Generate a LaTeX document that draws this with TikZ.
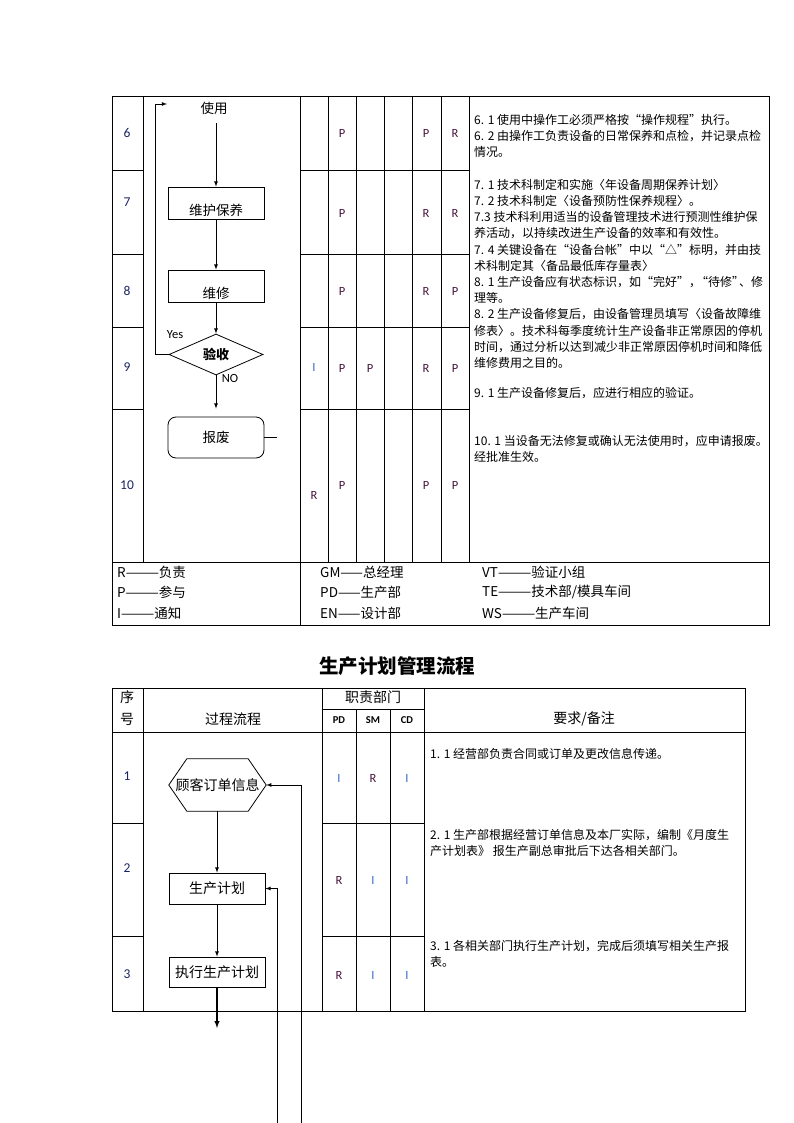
\documentclass[tikz,border=0pt]{standalone}
\usepackage{fontspec}
\setmainfont{Noto Sans CJK SC}
\newfontfamily\latinfont{Carlito}
\usetikzlibrary{arrows,shapes.geometric,positioning}

\definecolor{numblue}{RGB}{25,35,100}
\definecolor{dutyred}{RGB}{70,20,60}
\definecolor{dutyblue}{RGB}{55,105,200}

\tikzset{
  tabline/.style={line width=0.8pt},
  flowline/.style={line width=0.8pt},
  flowbox/.style={draw,line width=0.8pt,minimum width=96pt,minimum height=32pt,
    inner sep=0pt,text height=24pt,text depth=0pt,font=\fontsize{13.5}{14}\selectfont},
  planbox/.style={draw,line width=0.8pt,minimum width=96pt,minimum height=31pt,
    inner sep=0pt,font=\fontsize{14}{15}\selectfont},
  checkbox/.style={diamond,draw,line width=0.8pt,aspect=2.3,inner sep=0pt,
    minimum width=94pt,minimum height=41pt,font=\bfseries\fontsize{13}{14}\selectfont},
  endbox/.style={draw,line width=0.8pt,rounded corners=8pt,minimum width=96pt,
    minimum height=41pt,inner sep=0pt,font=\fontsize{13.5}{14}\selectfont},
  rownum/.style={text=numblue,inner sep=0pt,font=\latinfont\fontsize{13.5}{14}\selectfont},
  duty/.style={text=dutyred,inner sep=0pt,font=\latinfont\fontsize{12.5}{13}\selectfont},
  dutyi/.style={text=dutyblue,inner sep=0pt,font=\latinfont\fontsize{12.5}{13}\selectfont},
  remark/.style={anchor=north west,align=left,inner sep=0pt,
    font=\fontsize{12}{16.2}\selectfont},
  legend/.style={anchor=west,inner sep=0pt,font=\fontsize{13.5}{14}\selectfont},
  head/.style={inner sep=0pt,font=\fontsize{14}{15}\selectfont}
}

\begin{document}
\begin{tikzpicture}[>=latex,x=1pt,y=-1pt]
    \useasboundingbox (0,0) rectangle (794,1123);

    % upper table, grid
    \draw[tabline] (112,96) rectangle (769,625);
    \draw[tabline] (112,562) -- (769,562);
    \draw[tabline] (300,96) -- (300,625);
    \foreach \x in {143,328,356,384,412,441,469}
        \draw[tabline] (\x,96) -- (\x,562);
    \foreach \y in {170,254,327,409} {
        \draw[tabline] (112,\y) -- (143,\y);
        \draw[tabline] (300,\y) -- (469,\y);
    }

    % row numbers
    \foreach \n/\y in {6/133,7/202,8/291,9/367,10/485}
        \node[rownum] (no\n) at (127,\y) {\n};

    % duties
    \foreach \c/\x/\y/\t in {a/342/133/P,b/426/133/P,c/455/133/R,
                             d/342/213/P,e/426/213/R,f/455/213/R,
                             g/342/291/P,h/426/291/R,i/455/291/P,
                             j/342/368/P,k/370/368/P,l/426/368/R,m/455/368/P,
                             n/314/495/R,o/342/485/P,p/426/485/P,q/455/485/P}
        \node[duty] (duty-\c) at (\x,\y) {\t};
    \node[dutyi] (duty-r) at (314,367) {I};

    % flow, upper part
    \node[inner sep=1pt,font=\fontsize{13.5}{14}\selectfont] (use) at (214,108) {使用};
    \node[flowbox] (keep) at (216,203) {维护保养};
    \node[flowbox] (fix) at (216,286) {维修};
    \node[checkbox] (accept) at (216,354.5) {验收};
    \node[endbox] (scrap) at (216,437.5) {报废};
    \coordinate (loopend) at (167,104);

    \draw[flowline,->,shorten <=8pt] (keep.north |- use.south) -- (keep.north);
    \draw[flowline,->] (keep) -- (fix);
    \draw[flowline,->] (fix) -- (accept);
    \draw[flowline,->,shorten >=8pt] (accept) -- (scrap);
    \draw[flowline,->] (accept.west) -- ++(-13,0) |- (loopend);
    \draw[flowline] (scrap.east) -- ++(13,0);

    \node[inner sep=0pt,font=\latinfont\fontsize{12.5}{13}\selectfont] (yes) at (175,335) {Yes};
    \node[inner sep=0pt,font=\latinfont\fontsize{12.5}{13}\selectfont] (nolab) at (230,378) {NO};

    % remarks, upper part
    \node[remark] (rem6) at (474,114) {6. 1 使用中操作工必须严格按“操作规程”执行。\\
        6. 2 由操作工负责设备的日常保养和点检，并记录点检\\
        情况。};
    \node[remark] (rem7) at (474,179) {7. 1 技术科制定和实施〈年设备周期保养计划〉\\
        7. 2 技术科制定〈设备预防性保养规程〉。\\
        7.3 技术科利用适当的设备管理技术进行预测性维护保\\
        养活动，以持续改进生产设备的效率和有效性。\\
        7. 4 关键设备在“设备台帐”中以“△”标明，并由技\\
        术科制定其〈备品最低库存量表〉\\
        8. 1 生产设备应有状态标识，如“完好”，\kern-5pt“待修”\kern-5pt、修\\
        理等。\\
        8. 2 生产设备修复后，由设备管理员填写〈设备故障维\\
        修表〉。技术科每季度统计生产设备非正常原因的停机\\
        时间，通过分析以达到减少非正常原因停机时间和降低\\
        维修费用之目的。};
    \node[remark] (rem9) at (474,387) {9. 1 生产设备修复后，应进行相应的验证。};
    \node[remark] (rem10) at (474,435) {10. 1 当设备无法修复或确认无法使用时，应申请报废。\\
        经批准生效。};

    % legend
    \node[legend] (lg-r) at (117,572) {R———负责};
    \node[legend] (lg-p) at (117,592) {P———参与};
    \node[legend] (lg-i) at (117,613) {I———通知};
    \node[legend] (lg-gm) at (320,572) {GM——总经理};
    \node[legend] (lg-pd) at (320,592) {PD——生产部};
    \node[legend] (lg-en) at (320,613) {EN——设计部};
    \node[legend] (lg-vt) at (482,572) {VT———验证小组};
    \node[legend] (lg-te) at (482,592) {TE———技术部/模具车间};
    \node[legend] (lg-ws) at (482,613) {WS———生产车间};

    % title
    \node[inner sep=0pt,font=\bfseries\fontsize{19.5}{20}\selectfont] (title) at (397,666) {生产计划管理流程};

    % lower table, grid
    \draw[tabline] (112,688) rectangle (745,1011);
    \draw[tabline] (112,732) -- (745,732);
    \draw[tabline] (322,709) -- (424,709);
    \foreach \x in {143,322,424}
        \draw[tabline] (\x,688) -- (\x,1011);
    \foreach \x in {356,390}
        \draw[tabline] (\x,709) -- (\x,1011);
    \foreach \y in {823,936} {
        \draw[tabline] (112,\y) -- (143,\y);
        \draw[tabline] (322,\y) -- (424,\y);
    }

    % header
    \node[head,align=center,font=\fontsize{14}{22}\selectfont] (h-no) at (127,708) {序\\号};
    \node[head] (h-flow) at (233,719) {过程流程};
    \node[head] (h-dept) at (373,697) {职责部门};
    \node[head] (h-note) at (584,719) {要求/备注};
    \foreach \d/\x in {PD/339,SM/373,CD/407}
        \node[inner sep=0pt,font=\latinfont\bfseries\fontsize{10.5}{11}\selectfont] (h-\d) at (\x,720) {\d};

    \foreach \n/\y in {1/776,2/868,3/974}
        \node[rownum] (low\n) at (127,\y) {\n};

    \foreach \c/\x/\y/\t in {a/373/778/R,b/339/880/R,c/339/975/R}
        \node[duty] (low-\c) at (\x,\y) {\t};
    \foreach \c/\x/\y in {d/339/778,e/407/778,f/373/880,g/407/880,h/373/975,i/407/975}
        \node[dutyi] (low-\c) at (\x,\y) {I};

    % flow, lower part
    \node[inner sep=0pt,minimum width=97pt,minimum height=52pt,font=\fontsize{14}{15}\selectfont] (order) at (217.5,785) {顾客订单信息};
    \draw[flowline] (order.west) -- ([xshift=18pt]order.north west) -- ([xshift=-18pt]order.north east)
        -- (order.east) -- ([xshift=-18pt]order.south east) -- ([xshift=18pt]order.south west) -- cycle;
    \node[planbox] (plan) at (217,888.5) {生产计划};
    \node[planbox,minimum height=30pt] (exec) at (217,972) {执行生产计划};
    \coordinate (execend) at (217,1028);
    \coordinate (back1) at (301,1123);
    \coordinate (back2) at (277,1123);

    \draw[flowline,->] (order.south -| plan.north) -- (plan.north);
    \draw[flowline,->] (plan) -- (exec);
    \draw[line width=1.4pt,->] (exec) -- (execend);
    \draw[flowline,->] (back1) |- (order.east);
    \draw[flowline,->] (back2) |- (plan.east);

    % remarks, lower part
    \node[remark] (rem-l1) at (430,748) {1. 1 经营部负责合同或订单及更改信息传递。};
    \node[remark] (rem-l2) at (430,829) {2. 1 生产部根据经营订单信息及本厂实际，编制《月度生\\
        产计划表》 报生产副总审批后下达各相关部门。};
    \node[remark] (rem-l3) at (430,940) {3. 1 各相关部门执行生产计划，完成后须填写相关生产报\\
        表。};
\end{tikzpicture}
\end{document}
